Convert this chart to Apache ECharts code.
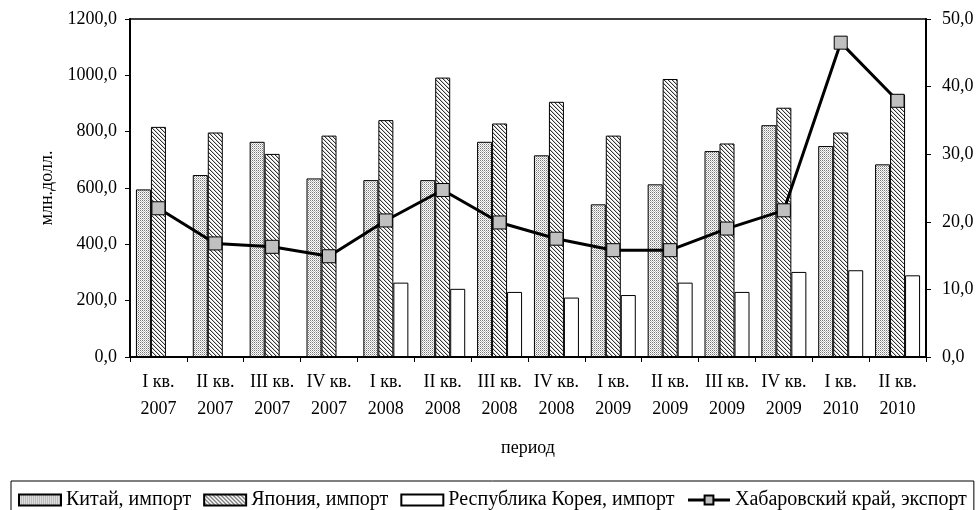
<!DOCTYPE html>
<html><head><meta charset="utf-8">
<script src="https://cdn.jsdelivr.net/npm/echarts@6/dist/echarts.min.js"></script>
<style>html,body{margin:0;padding:0;background:#fff}#c{width:978px;height:510px}</style>
</head><body><div id="c"></div>
<script>
var categories = ['I кв.\n2007','II кв.\n2007','III кв.\n2007','IV кв.\n2007','I кв.\n2008','II кв.\n2008','III кв.\n2008','IV кв.\n2008','I кв.\n2009','II кв.\n2009','III кв.\n2009','IV кв.\n2009','I кв.\n2010','II кв.\n2010'];
var chinaImport = [595, 646, 764, 634, 628, 628, 764, 716, 542, 613, 731, 823, 749, 684];
var japanImport = [817, 797, 721, 786, 841, 992, 829, 906, 786, 987, 758, 885, 797, 932];
var koreaImport = [null, null, null, null, 264, 242, 231, 211, 220, 264, 231, 302, 308, 290];
var khabExport = [22.0, 16.8, 16.3, 14.9, 20.2, 24.7, 19.9, 17.5, 15.8, 15.8, 19.0, 21.7, 46.5, 37.9];
var seriesNames = ['Китай, импорт', 'Япония, импорт', 'Республика Корея, импорт', 'Хабаровский край, экспорт'];

function dotPattern() {
  var c = document.createElement('canvas'); c.width = 2; c.height = 2;
  var g = c.getContext('2d');
  g.fillStyle = '#fff'; g.fillRect(0,0,2,2);
  g.fillStyle = '#777'; g.fillRect(0,0,1,1);
  g.fillStyle = '#bbb'; g.fillRect(1,1,1,1);
  return c;
}
function hatchPattern() {
  var c = document.createElement('canvas'); c.width = 4; c.height = 4;
  var g = c.getContext('2d');
  g.fillStyle = '#fff'; g.fillRect(0,0,4,4);
  g.fillStyle = '#333';
  for (var i = 0; i < 4; i++) { g.fillRect(i, i, 1, 1); }
  g.fillStyle = '#ccc';
  for (var j = 0; j < 4; j++) { g.fillRect((j+1)%4, j, 1, 1); }
  return c;
}
var font = 'Liberation Serif';
var fmt = function (v) { return v.toFixed(1).replace('.', ','); };
var chart = echarts.init(document.getElementById('c'));
chart.setOption({
  animation: false,
  textStyle: { fontFamily: font, color: '#000' },
  grid: { left: 130, right: 52, top: 19, bottom: 153, show: true, borderColor: '#000', borderWidth: 1.5 },
  legend: {
    left: 11, top: 481, padding: [9, 7, 10, 7], itemGap: 12, itemWidth: 42, itemHeight: 11,
    borderColor: '#000', borderWidth: 1,
    textStyle: { fontFamily: font, fontSize: 20, color: '#000' },
    data: [
      { name: seriesNames[0], icon: 'rect' },
      { name: seriesNames[1], icon: 'rect' },
      { name: seriesNames[2], icon: 'rect' },
      { name: seriesNames[3], lineStyle: { width: 3, color: '#000' } }
    ]
  },
  xAxis: {
    type: 'category', data: categories,
    name: 'период', nameLocation: 'middle', nameGap: 82,
    nameTextStyle: { fontFamily: font, fontSize: 18, color: '#000' },
    axisLine: { lineStyle: { color: '#000', width: 2 } },
    axisTick: { show: true, length: 5, lineStyle: { color: '#000' } },
    axisLabel: { fontFamily: font, fontSize: 18, color: '#000', margin: 12, lineHeight: 27, interval: 0 }
  },
  yAxis: [{
    type: 'value', min: 0, max: 1200, interval: 200,
    name: 'млн.долл.', nameLocation: 'middle', nameGap: 74, nameRotate: 90,
    nameTextStyle: { fontFamily: font, fontSize: 18, color: '#000' },
    axisLine: { show: true, lineStyle: { color: '#000', width: 2 } },
    axisTick: { show: true, length: 5, lineStyle: { color: '#000' } },
    splitLine: { show: false },
    axisLabel: { fontFamily: font, fontSize: 18, color: '#000', margin: 13, formatter: fmt }
  }, {
    type: 'value', min: 0, max: 50, interval: 10, position: 'right',
    axisLine: { show: true, lineStyle: { color: '#000', width: 2 } },
    axisTick: { show: true, length: 5, lineStyle: { color: '#000' } },
    splitLine: { show: false },
    axisLabel: { fontFamily: font, fontSize: 18, color: '#000', margin: 16, formatter: fmt }
  }],
  series: [{
    name: seriesNames[0], type: 'bar', data: chinaImport, barWidth: 15, barGap: '0%',
    itemStyle: { color: { image: dotPattern(), repeat: 'repeat' }, borderColor: '#000', borderWidth: 1 }
  }, {
    name: seriesNames[1], type: 'bar', data: japanImport, barWidth: 15, barGap: '0%',
    itemStyle: { color: { image: hatchPattern(), repeat: 'repeat' }, borderColor: '#000', borderWidth: 1 }
  }, {
    name: seriesNames[2], type: 'bar', data: koreaImport, barWidth: 15, barGap: '0%',
    itemStyle: { color: '#fff', borderColor: '#000', borderWidth: 1 }
  }, {
    name: seriesNames[3], type: 'line', yAxisIndex: 1, data: khabExport,
    symbol: 'rect', symbolSize: 13, z: 5,
    lineStyle: { color: '#000', width: 3 },
    itemStyle: { color: '#c0c0c0', borderColor: '#000', borderWidth: 1 }
  }]
});
</script></body></html>
